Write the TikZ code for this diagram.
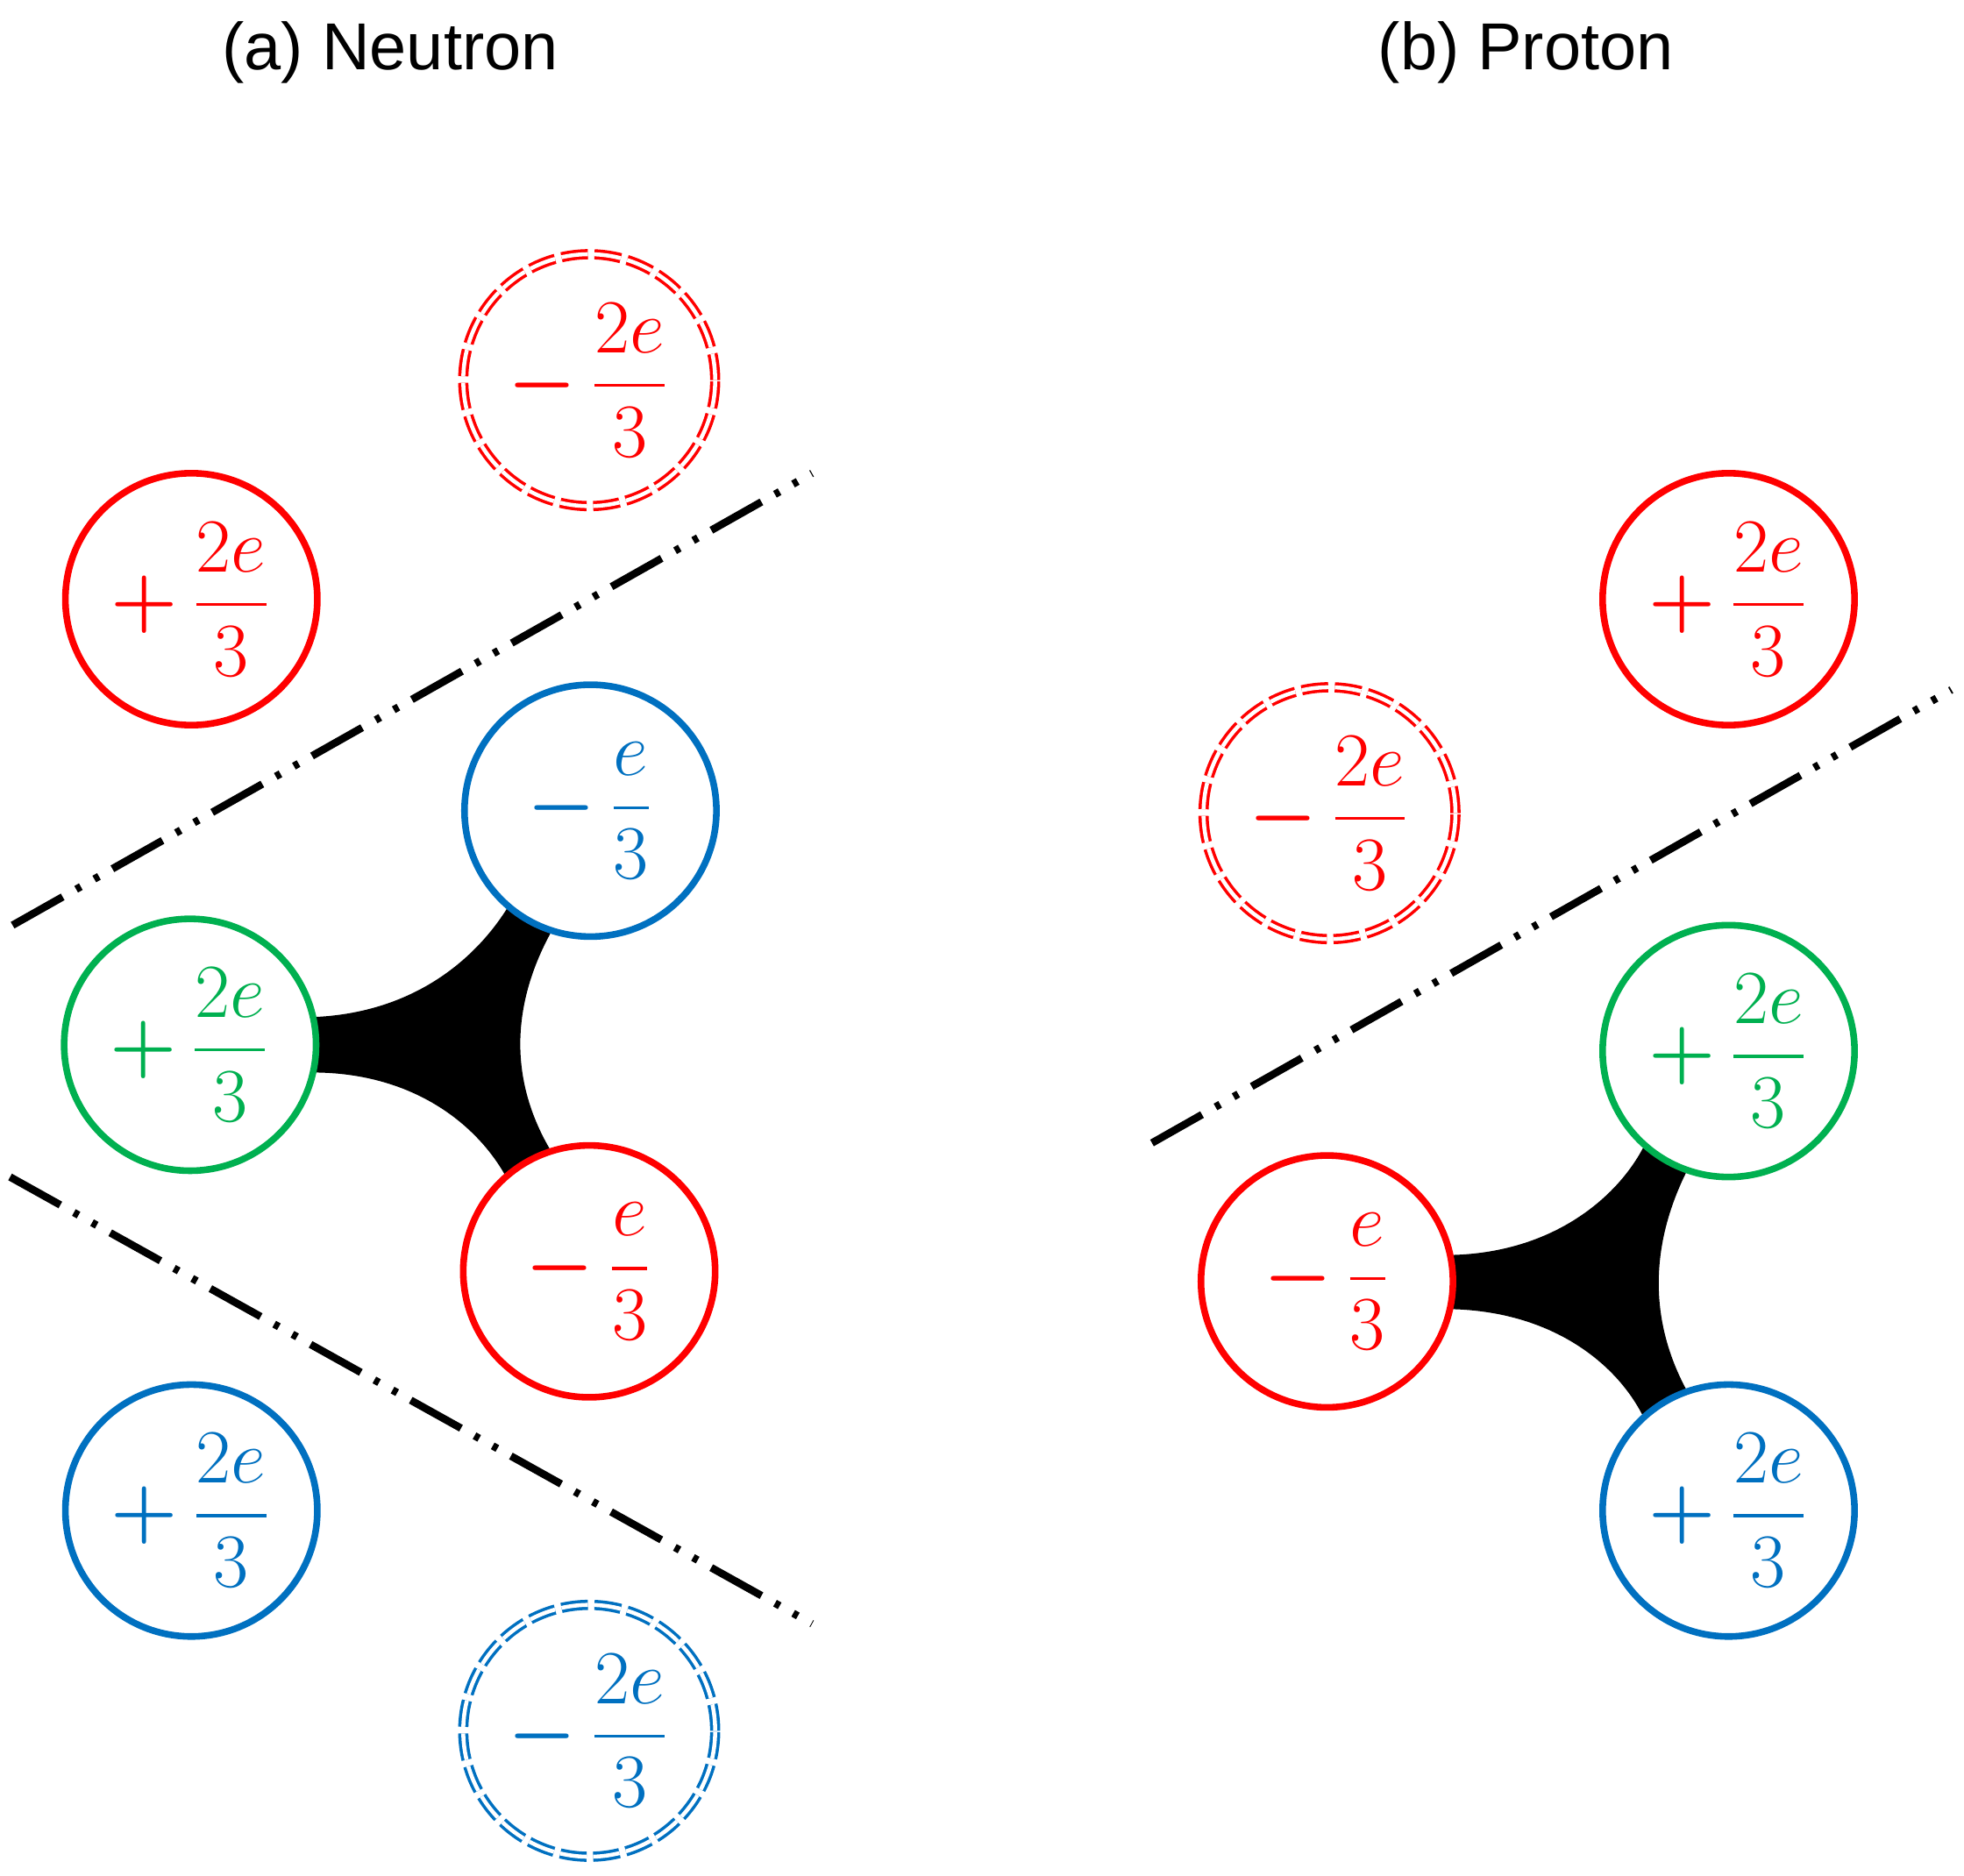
\documentclass[tikz,border=0pt]{standalone}
\usepackage{amsmath}
\usepackage{fontspec}
\setmainfont{Liberation Sans}
\definecolor{qred}{HTML}{FF0000}
\definecolor{qblue}{HTML}{0070C0}
\definecolor{qgreen}{HTML}{00B050}
\newcommand{\qfr}[3]{$\boldsymbol{#1}\,\dfrac{#2}{#3}$}
\begin{document}
\begin{tikzpicture}[x=0.01cm,y=-0.01cm,
  quark/.style={circle,draw=#1,text=#1,line width=1.5pt,fill=white,minimum size=2cm,inner sep=0pt,font=\fontsize{19}{22}\selectfont},
  ghost/.style={circle,draw=#1,text=#1,line width=0.7pt,double=white,double distance=0.9pt,dash pattern=on 6pt off 1.5pt,minimum size=2cm,inner sep=0pt,font=\fontsize{19}{22}\selectfont},
  cut/.style={line width=1.7pt,dash pattern=on 13pt off 3.5pt on 1.2pt off 3.5pt on 1.2pt off 3.5pt},
  title/.style={font=\fontsize{15}{18}\selectfont}]
\useasboundingbox (0,0) rectangle (1560,1490);
\node[title] (ta) at (310,42) {(a) Neutron};
\node[title] (tb) at (1212,42) {(b) Proton};
% glue
\fill (248,808) .. controls (330,805) and (380,760) .. (405,718) -- (438,740) .. controls (405,800) and (405,860) .. (438,915) -- (402,935) .. controls (380,895) and (330,852) .. (248,852) -- cycle;
\fill (1153,997) .. controls (1235,995) and (1285,950) .. (1305,912) -- (1340,930) .. controls (1310,990) and (1310,1050) .. (1340,1105) -- (1305,1125) .. controls (1285,1085) and (1235,1042) .. (1153,1040) -- cycle;
% neutron
\node[ghost=qred] (n1) at (468,302) {\qfr{-}{2e}{3}};
\node[quark=qred] (n2) at (152,476) {\qfr{+}{2e}{3}};
\node[quark=qblue] (n3) at (469,644) {\qfr{-}{e}{3}};
\node[quark=qgreen] (n4) at (151,830) {\qfr{+}{2e}{3}};
\node[quark=qred] (n5) at (468,1010) {\qfr{-}{e}{3}};
\node[quark=qblue] (n6) at (152,1200) {\qfr{+}{2e}{3}};
\node[ghost=qblue] (n7) at (468,1375) {\qfr{-}{2e}{3}};
\coordinate (c1a) at (10,735); \coordinate (c1b) at (645,376);
\coordinate (c2a) at (8,935); \coordinate (c2b) at (645,1290);
\draw[cut] (c1a) -- (c1b);
\draw[cut] (c2a) -- (c2b);
% proton
\node[quark=qred] (p1) at (1373,476) {\qfr{+}{2e}{3}};
\node[ghost=qred] (p2) at (1056,646) {\qfr{-}{2e}{3}};
\node[quark=qgreen] (p3) at (1373,835) {\qfr{+}{2e}{3}};
\node[quark=qred] (p4) at (1054,1018) {\qfr{-}{e}{3}};
\node[quark=qblue] (p5) at (1373,1200) {\qfr{+}{2e}{3}};
\coordinate (c3a) at (915,908); \coordinate (c3b) at (1550,548);
\draw[cut] (c3a) -- (c3b);
\end{tikzpicture}
\end{document}
